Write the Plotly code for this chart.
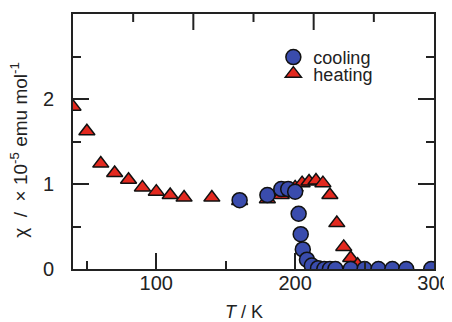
import plotly.graph_objects as go

# Heating (triangles)
heat_T = [40, 50, 60, 70, 80, 90, 100, 110, 120, 140, 160, 180, 190, 195, 200,
          205, 210, 215, 220, 225, 230, 235, 240, 245, 250, 260, 270, 280, 300]
heat_chi = [1.91, 1.62, 1.24, 1.13, 1.05, 0.96, 0.91, 0.87, 0.84, 0.84, 0.80, 0.82, 0.87, 0.90, 0.96,
            1.01, 1.03, 1.04, 1.01, 0.87, 0.54, 0.26, 0.13, 0.05, 0.0, 0.0, 0.0, 0.0, 0.0]

# Cooling (circles)
cool_T = [160, 180, 190, 195, 200, 202.5, 204, 205.5, 208.5, 212, 216.5, 221, 225, 229,
          240, 250, 260, 270, 280, 298]
cool_chi = [0.81, 0.87, 0.94, 0.94, 0.91, 0.65, 0.41, 0.23, 0.11, 0.04, 0.01, 0.0, 0.0, 0.0,
            0.0, 0.0, 0.0, 0.0, 0.0, 0.0]

x_ticks = [100, 200, 300]
x_minor = [50, 150, 250]
y_ticks = [0, 1, 2]
y_minor = [0.5, 1.5, 2.5]
# unlabeled ticks along the top frame (fractions of the frame width)
top_major = [2 / 6, 4 / 6]
top_minor = [1 / 6, 3 / 6, 5 / 6]

FONT = "Liberation Sans, Arial, sans-serif"
INK = "#222222"
BLUE = "#3a4cad"
RED = "#e3291f"

fig = go.Figure()
fig.add_trace(go.Scatter(
    x=heat_T, y=heat_chi, mode="markers", name="heating", legend="legend2",
    marker=dict(symbol="triangle-up", size=14, color=RED,
                line=dict(color="#111111", width=1.5))))
fig.add_trace(go.Scatter(
    x=cool_T, y=cool_chi, mode="markers", name="cooling", legend="legend",
    marker=dict(symbol="circle", size=15, color=BLUE,
                line=dict(color="#111111", width=1.5))))

shapes = []
for fx, ln in [(v, 16) for v in top_major] + [(v, 8) for v in top_minor]:
    shapes.append(dict(type="line", xref="paper", yref="paper", x0=fx, x1=fx,
                       y0=1, y1=1 - ln / 255,
                       line=dict(color=INK, width=2)))

fig.update_layout(
    width=444, height=314,
    margin=dict(l=65, r=18, t=6, b=53, autoexpand=False),
    paper_bgcolor="white", plot_bgcolor="white",
    font=dict(family=FONT, color=INK),
    showlegend=True,
    xaxis=dict(range=[40, 300], tickvals=x_ticks, ticktext=[str(v) for v in x_ticks],
               showgrid=False, zeroline=False, showline=True, linecolor=INK, linewidth=2,
               mirror=True, ticks="inside", ticklen=16, tickwidth=2, tickcolor=INK,
               ticklabelstandoff=-5,
               tickfont=dict(family=FONT, size=20, color=INK),
               minor=dict(tickvals=x_minor, ticks="inside", ticklen=8, tickwidth=2,
                          tickcolor=INK)),
    yaxis=dict(range=[0, 3], tickvals=y_ticks, ticktext=[str(v) for v in y_ticks],
               showgrid=False, zeroline=False, showline=True, linecolor=INK, linewidth=2,
               mirror="ticks", ticks="inside", ticklen=16, tickwidth=2, tickcolor=INK,
               ticklabelstandoff=13,
               tickfont=dict(family=FONT, size=20, color=INK),
               minor=dict(tickvals=y_minor, ticks="inside", ticklen=8, tickwidth=2,
                          tickcolor=INK)),
    legend=dict(x=0.555, y=0.83, xanchor="left", yanchor="middle", bgcolor="rgba(0,0,0,0)",
                font=dict(family=FONT, size=18, color=INK)),
    legend2=dict(x=0.555, y=0.765, xanchor="left", yanchor="middle", bgcolor="rgba(0,0,0,0)",
                 font=dict(family=FONT, size=18, color=INK)),
    shapes=shapes,
    annotations=[
        dict(text="<i>T</i> / K", xref="paper", yref="paper", x=(244 - 73) / 361, y=-0.12,
             xanchor="center", yanchor="top", showarrow=False,
             font=dict(family=FONT, size=18, color=INK)),
        dict(text="χ  /  × 10<sup>-5</sup> emu mol<sup>-1</sup>", xref="paper", yref="paper",
             x=-0.15, y=(269 - 150) / 255, xanchor="center", yanchor="middle",
             textangle=-90, showarrow=False,
             font=dict(family=FONT, size=19, color=INK)),
    ],
)

fig.write_html("out.html")
